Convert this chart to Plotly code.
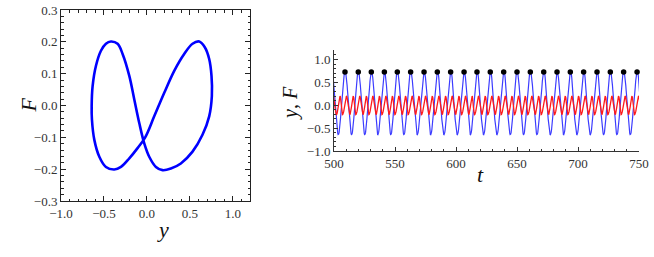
import plotly.graph_objects as go

# ---- data ----
# one period of the limit cycle (y, F) as traced in the left panel
loop_y = [0.756, 0.752, 0.725, 0.674, 0.609, 0.531, 0.434, 0.318, 0.202, 0.085,
          -0.020, -0.109, -0.205, -0.302, -0.380, -0.477, -0.554, -0.612, -0.640, -0.643,
          -0.632, -0.593, -0.535, -0.477, -0.419, -0.341, -0.283, -0.205, -0.147, -0.089,
          -0.031, 0.027, 0.105, 0.182, 0.279, 0.395, 0.531, 0.647, 0.725]
loop_F = [0.030, 0.093, 0.146, 0.183, 0.201, 0.194, 0.162, 0.109, 0.040, -0.034,
          -0.100, -0.134, -0.166, -0.193, -0.201, -0.193, -0.161, -0.108, -0.044, -0.002,
          0.061, 0.125, 0.172, 0.194, 0.201, 0.194, 0.162, 0.093, 0.019, -0.055,
          -0.119, -0.161, -0.193, -0.203, -0.198, -0.182, -0.145, -0.092, -0.034]
# estimated position of each loop point within one period (fraction of period)
loop_phase = [0.000, 0.024, 0.051, 0.080, 0.107, 0.132, 0.160, 0.190, 0.217, 0.244,
              0.266, 0.289, 0.312, 0.336, 0.358, 0.389, 0.420, 0.455, 0.481, 0.505,
              0.524, 0.559, 0.589, 0.608, 0.625, 0.645, 0.665, 0.686, 0.707, 0.727,
              0.748, 0.768, 0.789, 0.810, 0.838, 0.866, 0.898, 0.932, 0.966]

# times of the maxima of y (black dots) in the right panel
peak_t = [509.0, 519.9, 530.6, 541.3, 551.9, 562.8, 573.8, 584.7, 595.6, 606.6,
          617.2, 628.1, 639.1, 650.0, 660.9, 671.9, 682.8, 693.7, 704.6, 715.6,
          726.5, 737.4, 748.4]
peak_y = [0.73] * len(peak_t)

left_xticks = [-1.0, -0.5, 0.0, 0.5, 1.0]
left_yticks = [-0.3, -0.2, -0.1, 0.0, 0.1, 0.2, 0.3]
right_xticks = [500, 550, 600, 650, 700, 750]
right_yticks = [-1.0, -0.5, 0.0, 0.5, 1.0]

# ---- build the time series by following the loop through each period ----
starts = [peak_t[0] - (peak_t[1] - peak_t[0])] + peak_t
ts, ys, Fs = [], [], []
for i, s in enumerate(starts):
    if i + 1 < len(starts):
        per = starts[i + 1] - s
    else:
        per = starts[i] - starts[i - 1]
    for ph, yv, fv in zip(loop_phase, loop_y, loop_F):
        ts.append(s + ph * per)
        ys.append(yv)
        Fs.append(fv)
ts.append(starts[-1] + (starts[-1] - starts[-2]))
ys.append(loop_y[0])
Fs.append(loop_F[0])

fig = go.Figure()

fig.add_trace(go.Scatter(
    x=loop_y + [loop_y[0]], y=loop_F + [loop_F[0]], mode="lines",
    line=dict(color="#0000ff", width=2.6, shape="spline"),
    xaxis="x", yaxis="y", showlegend=False))

fig.add_trace(go.Scatter(
    x=ts, y=ys, mode="lines", line=dict(color="#3c3cff", width=1.2),
    xaxis="x2", yaxis="y2", showlegend=False))
fig.add_trace(go.Scatter(
    x=ts, y=Fs, mode="lines", line=dict(color="#ff1a1a", width=1.3),
    xaxis="x2", yaxis="y2", showlegend=False))
fig.add_trace(go.Scatter(
    x=peak_t, y=peak_y, mode="markers",
    marker=dict(color="black", size=5.5),
    xaxis="x2", yaxis="y2", showlegend=False, cliponaxis=False))

W, H = 654, 257
tickfont = dict(family="Liberation Serif", size=13, color="#333333")

frame_common = dict(showline=True, linecolor="#222222", linewidth=1, mirror="ticks",
                    ticks="inside", ticklen=5, tickcolor="#222222", tickwidth=1,
                    showgrid=False, zeroline=False, tickfont=tickfont, automargin=False)

fig.update_layout(
    width=W, height=H, margin=dict(l=0, r=0, t=0, b=0, pad=0),
    paper_bgcolor="white", plot_bgcolor="white",
    xaxis=dict(domain=[61 / W, 250 / W], range=[-1.0, 1.2], tickvals=left_xticks,
               tickformat=".1f", anchor="y",
               minor=dict(dtick=0.1, tick0=0, ticklen=2.5, ticks="inside",
                          tickcolor="#222222"),
               **frame_common),
    yaxis=dict(domain=[(H - 201) / H, (H - 10) / H], range=[-0.3, 0.3],
               tickvals=left_yticks, tickformat=".1f", anchor="x",
               minor=dict(dtick=0.02, tick0=0, ticklen=2.5, ticks="inside",
                          tickcolor="#222222"),
               **frame_common),
    xaxis2=dict(domain=[334 / W, 639 / W], range=[500, 750], tickvals=right_xticks,
                anchor="y2", showline=True, linecolor="#333333", linewidth=1,
                mirror=False, ticks="inside", ticklen=4, tickcolor="#333333",
                showgrid=False, zeroline=False, tickfont=tickfont, automargin=False,
                minor=dict(dtick=10, tick0=500, ticklen=2, ticks="inside",
                           tickcolor="#333333")),
    yaxis2=dict(domain=[(H - 151) / H, (H - 50.4) / H], range=[-1.0, 1.2],
                tickvals=right_yticks, tickformat=".1f", anchor="x2",
                showline=True, linecolor="#333333", linewidth=1, mirror=False,
                ticks="inside", ticklen=4, tickcolor="#333333", automargin=False,
                showgrid=False, zeroline=False, tickfont=tickfont,
                minor=dict(dtick=0.1, tick0=0, ticklen=2, ticks="inside",
                           tickcolor="#333333")),
)

title_font = dict(family="Liberation Serif", size=22, color="#111111")
fig.add_annotation(text="<i>F</i>", x=13 / W, y=(H - 105) / H, xref="paper", yref="paper",
                   showarrow=False, textangle=-90, font=title_font)
fig.add_annotation(text="<i>y</i>", x=155 / W, y=(H - 244) / H, xref="paper", yref="paper",
                   showarrow=False, font=title_font)
fig.add_annotation(text="<i>y</i>, <i>F</i>", x=290 / W, y=(H - 103) / H, xref="paper",
                   yref="paper", showarrow=False, textangle=-90,
                   font=dict(family="Liberation Serif", size=20, color="#111111"))
fig.add_annotation(text="<i>t</i>", x=486 / W, y=(H - 189) / H, xref="paper", yref="paper",
                   showarrow=False, font=title_font)

fig.write_html("out.html",
               config={"displayModeBar": False},
               post_script="document.body.style.margin='0';document.body.style.overflow='hidden';")
